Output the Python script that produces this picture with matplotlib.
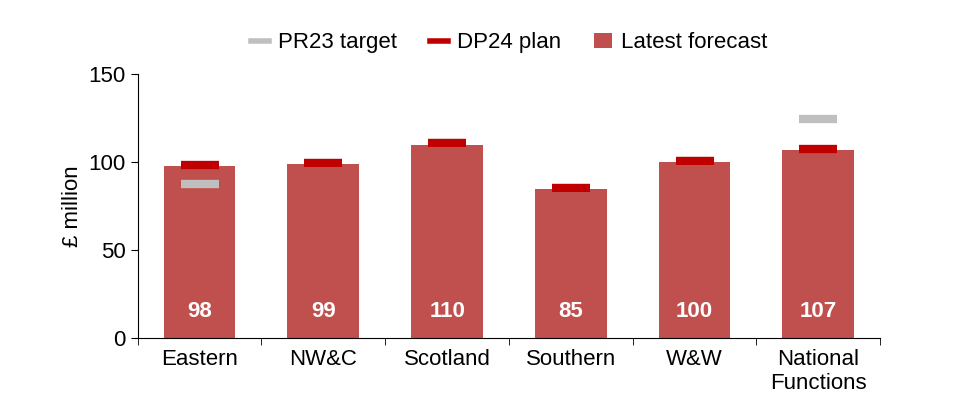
import matplotlib.pyplot as plt
import numpy as np

plt.rcParams['font.family'] = 'Liberation Sans'

regions = ['Eastern', 'NW&C', 'Scotland', 'Southern', 'W&W', 'National\nFunctions']
latest = [98, 99, 110, 85, 100, 107]
pr23 = [87.5, 99.3, 110.8, 85.5, 100.5, 124.5]
dp24 = [98.5, 99.3, 110.8, 85.5, 100.5, 107.5]

BAR = '#C0504D'
DP = '#C00000'
PR = '#BFBFBF'

fig = plt.figure(figsize=(9.63, 4.19), dpi=100)
ax = fig.add_axes([0.143, 0.193, 0.771, 0.63])

x = np.arange(len(regions))
ax.bar(x, latest, 0.58, color=BAR, label='Latest forecast', zorder=1)
ax.plot(x, pr23, ls='none', marker='_', ms=27, mew=6, color=PR, zorder=2)
ax.plot(x, dp24, ls='none', marker='_', ms=27, mew=6, color=DP, zorder=3)
# legend proxies as short line segments
ax.plot([], [], color=PR, lw=4, label='PR23 target')
ax.plot([], [], color=DP, lw=4, label='DP24 plan')

for xi, v in zip(x, latest):
    ax.text(xi, 15, str(v), ha='center', va='center', color='white',
            fontsize=16, fontweight='bold')

ax.set_xlim(-0.5, len(regions) - 0.5)
ax.set_ylim(0, 150)
ax.set_yticks([0, 50, 100, 150])
ax.set_xticks(x)
ax.set_xticklabels(regions)
ax.set_xticks(np.arange(len(regions) + 1) - 0.5, minor=True)
ax.tick_params(axis='x', which='major', length=0, pad=8, labelsize=16)
ax.tick_params(axis='x', which='minor', length=5, color='black')
ax.tick_params(axis='y', labelsize=16, length=5)
ax.set_ylabel('£ million', fontsize=16)
for s in ['top', 'right']:
    ax.spines[s].set_visible(False)

ax.legend(loc='lower center', bbox_to_anchor=(0.5, 1.02), ncol=3, frameon=False,
          fontsize=16, handlelength=0.8, handletextpad=0.4, columnspacing=1.5,
          borderaxespad=0.3)

fig.savefig('out.png', dpi=100)
